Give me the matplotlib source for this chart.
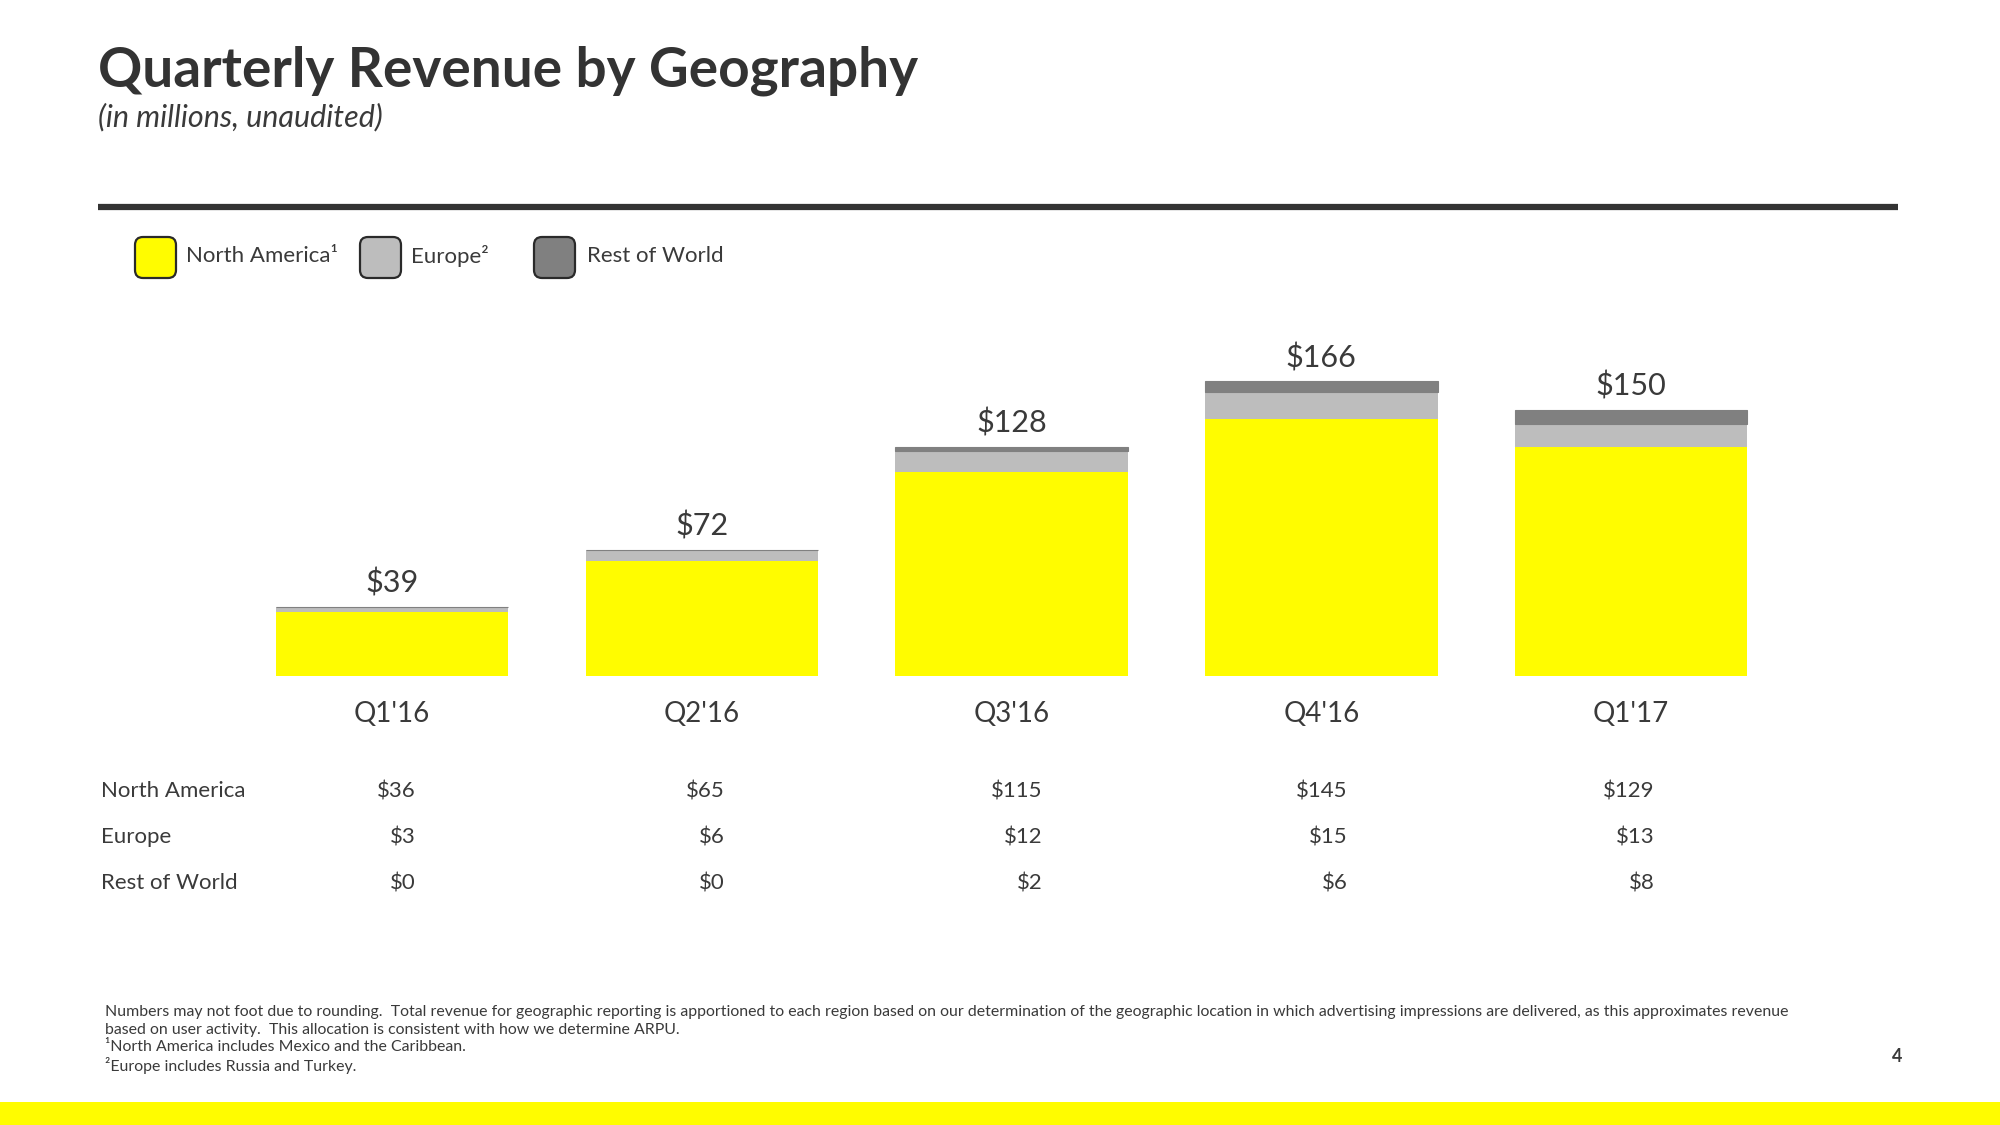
import numpy as np
import matplotlib
matplotlib.use("Agg")
import matplotlib.pyplot as plt
from matplotlib.patches import FancyBboxPatch, Rectangle
from matplotlib.transforms import blended_transform_factory

# data (in millions)
quarters = ["Q1'16", "Q2'16", "Q3'16", "Q4'16", "Q1'17"]
north_america = [36, 65, 115, 145, 129]
europe = [3, 6, 12, 15, 13]
rest_of_world = [0, 0, 2, 6, 8]
totals = [39, 72, 128, 166, 150]
row_names = ["North America", "Europe", "Rest of World"]

YELLOW = "#FFFC00"
LGRAY = "#BDBDBD"
DGRAY = "#808080"
TXT = "#3a3a3a"

plt.rcParams['font.family'] = ['Lato', 'DejaVu Sans']

fig = plt.figure(figsize=(20, 11.25), dpi=100)

# page overlay in pixel coords (y down)
pg = fig.add_axes([0, 0, 1, 1])
pg.set_xlim(0, 2000)
pg.set_ylim(1125, 0)
pg.axis('off')

pg.text(98, 71, "Quarterly Revenue by Geography", fontsize=39.5, fontweight='bold',
        color="#333333", va='center', ha='left')
pg.text(98, 117, "(in millions, unaudited)", fontsize=22, style='italic',
        color=TXT, va='center', ha='left')
pg.plot([98, 1898], [207, 207], color="#333333", lw=4.5, solid_capstyle='butt')

# legend with rounded swatches
legend_items = [("North America\u00b9", YELLOW, 135, 186),
                ("Europe\u00b2", LGRAY, 360, 411),
                ("Rest of World", DGRAY, 534, 587)]
for name, col, bx, tx in legend_items:
    box = FancyBboxPatch((bx + 6, 243), 29, 29, boxstyle="round,pad=6,rounding_size=8",
                         facecolor=col, edgecolor="#2a2a2a", lw=1.6)
    pg.add_patch(box)
    pg.text(tx, 256, name, fontsize=16, color=TXT, va='center', ha='left')

# footnotes
notes = ["Numbers may not foot due to rounding.  Total revenue for geographic reporting is apportioned to each region based on our determination of the geographic location in which advertising impressions are delivered, as this approximates revenue",
         "based on user activity.  This allocation is consistent with how we determine ARPU.",
         "\u00b9North America includes Mexico and the Caribbean.",
         "\u00b2Europe includes Russia and Turkey."]
for k, line in enumerate(notes):
    pg.text(105, 1012 + k * 17.7, line, fontsize=11.4, color=TXT, va='center', ha='left')
pg.text(1897, 1056, "4", fontsize=13, fontweight='bold', color=TXT, va='center', ha='center')

# bottom band
pg.add_patch(Rectangle((0, 1102), 2000, 23, facecolor=YELLOW, edgecolor='none'))

# bar chart
ax = fig.add_axes([0.05, 449 / 1125, 0.9, 346 / 1125])
ax.patch.set_alpha(0)
x = np.arange(len(quarters))
na = np.array(north_america)
eu = np.array(europe)
rw = np.array(rest_of_world)
w = 0.75
ax.bar(x, na, w, color=YELLOW, linewidth=0)
ax.bar(x, eu, w, bottom=na, color=LGRAY, linewidth=0)
ax.bar(x, rw, w, bottom=na + eu, color=DGRAY, edgecolor=DGRAY, linewidth=0.8)
ax.set_xlim(-0.943, 4.868)
ax.set_ylim(0, 194.9)

for i, t in enumerate(totals):
    ax.annotate("$%d" % t, (x[i], na[i] + eu[i] + rw[i]), xytext=(0, 17),
                textcoords='offset points', ha='center', va='center',
                fontsize=22, color=TXT)

ax.set_xticks(x)
ax.set_xticklabels(quarters, fontsize=20, color=TXT)
ax.tick_params(axis='x', length=0, pad=18)
ax.set_yticks([])
for s in ax.spines.values():
    s.set_visible(False)

# data table below
tr = blended_transform_factory(ax.transData, fig.transFigure)
row_y = [1 - 791 / 1125, 1 - 837 / 1125, 1 - 883 / 1125]
col_shift = [0.075, 0.075, 0.10, 0.085, 0.075]
for r, (name, vals) in enumerate(zip(row_names, [north_america, europe, rest_of_world])):
    fig.text(101 / 2000, row_y[r], name, fontsize=16, color=TXT,
             va='center', ha='left')
    for i, v in enumerate(vals):
        ax.text(x[i] + col_shift[i], row_y[r], "$%d" % v, transform=tr, fontsize=16,
                color=TXT, va='center', ha='right', clip_on=False)

fig.savefig("out.png", dpi=100, facecolor='white')
